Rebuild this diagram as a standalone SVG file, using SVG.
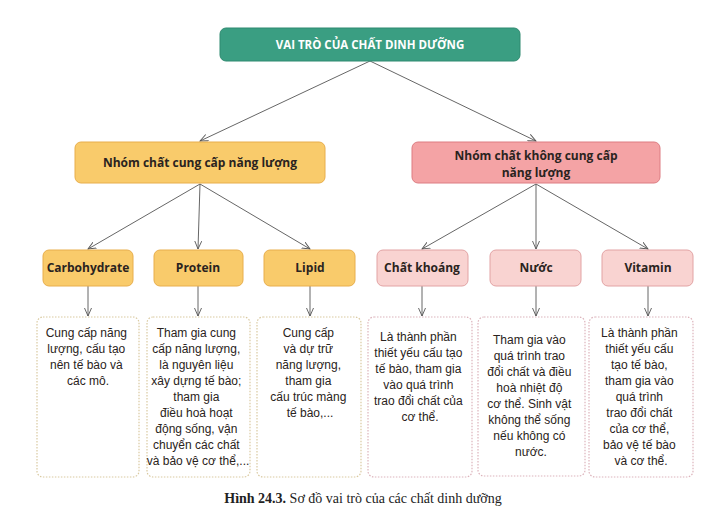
<svg xmlns="http://www.w3.org/2000/svg" width="713" height="515" viewBox="0 0 713 515">
<defs>
<marker id="arr" markerWidth="10" markerHeight="8" refX="8" refY="4" orient="auto" markerUnits="userSpaceOnUse">
<path d="M0,0.5 L8,4 L0,7.5" fill="none" stroke="#555" stroke-width="0.9"/>
</marker>
</defs>
<style>
.bg{fill:#fff}
.title{fill:#3a9e82;stroke:#2f8a70;stroke-width:1}
.tt{font-family:"Open Sans","Liberation Sans",sans-serif;font-weight:bold;font-size:11.5px;fill:#fff;text-anchor:middle}
.org{fill:#f9cb6b;stroke:#e8ae4c;stroke-width:1}
.pnk{fill:#f4a3a5;stroke:#dd7d82;stroke-width:1}
.lpk{fill:#f9d3d1;stroke:#e2a3a4;stroke-width:1}
.lbl{font-family:"Open Sans","Liberation Sans",sans-serif;font-weight:bold;font-size:12px;fill:#2a2320;text-anchor:middle}
.db{fill:#fff;stroke:#d9c9a0;stroke-width:1.2;stroke-dasharray:1.5 1.5}
.dp{fill:#fff;stroke:#dcb3bb;stroke-width:1.2;stroke-dasharray:1.5 1.5}
.body{font-family:"Liberation Sans","Open Sans",sans-serif;font-size:12px;fill:#2a2320;text-anchor:middle}
.con line{stroke:#555;stroke-width:0.9;marker-end:url(#arr)}
.cap{font-family:"Liberation Serif",serif;font-size:14px;fill:#222;text-anchor:middle}
</style>
<rect class="bg" x="0" y="0" width="713" height="515"/>

<g id="connectors" class="con">
<line x1="370" y1="61" x2="200" y2="141"/>
<line x1="370" y1="61" x2="536" y2="141"/>
<line x1="200" y1="184" x2="88" y2="249"/>
<line x1="200" y1="184" x2="198" y2="249"/>
<line x1="200" y1="184" x2="310" y2="249"/>
<line x1="536" y1="184" x2="422" y2="249"/>
<line x1="536" y1="184" x2="536" y2="249"/>
<line x1="536" y1="184" x2="648" y2="249"/>
<line x1="88" y1="286" x2="88" y2="316"/>
<line x1="198" y1="286" x2="198" y2="316"/>
<line x1="310" y1="286" x2="310" y2="316"/>
<line x1="422" y1="286" x2="422" y2="316"/>
<line x1="536" y1="286" x2="536" y2="316"/>
<line x1="648" y1="286" x2="648" y2="316"/>
</g>

<g id="root">
<rect class="title" x="220" y="28" width="300" height="33" rx="6"/>
<text class="tt" x="370" y="49">VAI TRÒ CỦA CHẤT DINH DƯỠNG</text>
</g>

<g id="nang-luong">
<rect class="org" x="75" y="142" width="250" height="41" rx="6"/>
<text class="lbl" x="200" y="167">Nhóm chất cung cấp năng lượng</text>
</g>

<g id="khong-nang-luong">
<rect class="pnk" x="412" y="142" width="248" height="41" rx="6"/>
<text class="lbl" x="536" y="160">Nhóm chất không cung cấp</text>
<text class="lbl" x="536" y="177">năng lượng</text>
</g>

<g id="carbohydrate">
<rect class="org" x="43" y="250" width="90" height="36" rx="6"/>
<text class="lbl" x="88" y="272">Carbohydrate</text>
</g>
<g id="protein">
<rect class="org" x="154" y="250" width="89" height="36" rx="6"/>
<text class="lbl" x="198" y="272">Protein</text>
</g>
<g id="lipid">
<rect class="org" x="264" y="250" width="91" height="36" rx="6"/>
<text class="lbl" x="310" y="272">Lipid</text>
</g>
<g id="chat-khoang">
<rect class="lpk" x="377" y="250" width="91" height="36" rx="6"/>
<text class="lbl" x="422" y="272">Chất khoáng</text>
</g>
<g id="nuoc">
<rect class="lpk" x="490" y="250" width="91" height="36" rx="6"/>
<text class="lbl" x="536" y="272">Nước</text>
</g>
<g id="vitamin">
<rect class="lpk" x="602" y="250" width="91" height="36" rx="6"/>
<text class="lbl" x="648" y="272">Vitamin</text>
</g>

<g id="desc-carbohydrate">
<rect class="db" x="37" y="317" width="102" height="160" rx="6"/>
<text class="body" x="88" y="337">
<tspan x="88">Cung cấp năng</tspan>
<tspan x="88" dy="16">lượng, cấu tạo</tspan>
<tspan x="88" dy="16">nên tế bào và</tspan>
<tspan x="88" dy="16">các mô.</tspan>
</text>
</g>
<g id="desc-protein">
<rect class="db" x="147" y="317" width="103" height="160" rx="6"/>
<text class="body" x="198" y="337">
<tspan x="198">Tham gia cung</tspan>
<tspan x="198" dy="16">cấp năng lượng,</tspan>
<tspan x="198" dy="16">là nguyên liệu</tspan>
<tspan x="198" dy="16">xây dựng tế bào;</tspan>
<tspan x="198" dy="16">tham gia</tspan>
<tspan x="198" dy="16">điều hoà hoạt</tspan>
<tspan x="198" dy="16">động sống, vận</tspan>
<tspan x="198" dy="16">chuyển các chất</tspan>
<tspan x="198" dy="16">và bảo vệ cơ thể,...</tspan>
</text>
</g>
<g id="desc-lipid">
<rect class="db" x="257" y="317" width="104" height="160" rx="6"/>
<text class="body" x="310" y="337">
<tspan x="310">Cung cấp</tspan>
<tspan x="310" dy="16">và dự trữ</tspan>
<tspan x="310" dy="16">năng lượng,</tspan>
<tspan x="310" dy="16">tham gia</tspan>
<tspan x="310" dy="16">cấu trúc màng</tspan>
<tspan x="310" dy="16">tế bào,...</tspan>
</text>
</g>
<g id="desc-chat-khoang">
<rect class="dp" x="368" y="317" width="104" height="160" rx="6"/>
<text class="body" x="420" y="341">
<tspan x="420">Là thành phần</tspan>
<tspan x="420" dy="16">thiết yếu cấu tạo</tspan>
<tspan x="420" dy="16">tế bào, tham gia</tspan>
<tspan x="420" dy="16">vào quá trình</tspan>
<tspan x="420" dy="16">trao đổi chất của</tspan>
<tspan x="420" dy="16">cơ thể.</tspan>
</text>
</g>
<g id="desc-nuoc">
<rect class="dp" x="478" y="317" width="107" height="159" rx="6"/>
<text class="body" x="531" y="344">
<tspan x="531">Tham gia vào</tspan>
<tspan x="531" dy="16">quá trình trao</tspan>
<tspan x="531" dy="16">đổi chất và điều</tspan>
<tspan x="531" dy="16">hoà nhiệt độ</tspan>
<tspan x="531" dy="16">cơ thể. Sinh vật</tspan>
<tspan x="531" dy="16">không thể sống</tspan>
<tspan x="531" dy="16">nếu không có</tspan>
<tspan x="531" dy="16">nước.</tspan>
</text>
</g>
<g id="desc-vitamin">
<rect class="dp" x="589" y="317" width="104" height="160" rx="6"/>
<text class="body" x="641" y="337">
<tspan x="641">Là thành phần</tspan>
<tspan x="641" dy="16">thiết yếu cấu</tspan>
<tspan x="641" dy="16">tạo tế bào,</tspan>
<tspan x="641" dy="16">tham gia vào</tspan>
<tspan x="641" dy="16">quá trình</tspan>
<tspan x="641" dy="16">trao đổi chất</tspan>
<tspan x="641" dy="16">của cơ thể,</tspan>
<tspan x="641" dy="16">bảo vệ tế bào</tspan>
<tspan x="641" dy="16">và cơ thể.</tspan>
</text>
</g>

<text class="cap" x="363" y="503"><tspan font-weight="bold">Hình 24.3.</tspan> Sơ đồ vai trò của các chất dinh dưỡng</text>
</svg>
